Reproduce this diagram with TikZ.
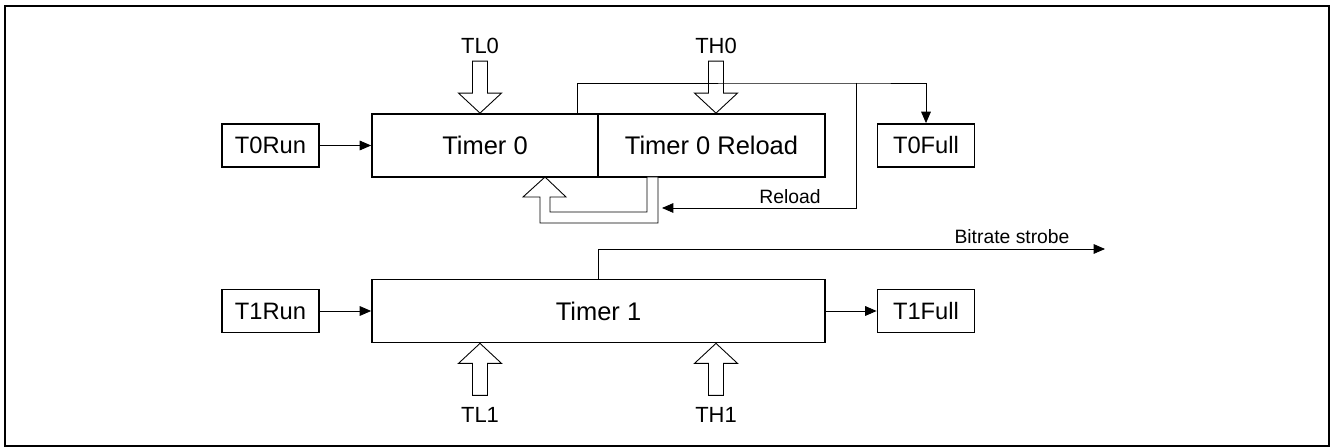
\documentclass[tikz,border=0pt]{standalone}
\usepackage{fontspec}
\setmainfont{Liberation Sans}
\usetikzlibrary{positioning,arrows.meta,calc}

\tikzset{
  regbox/.style={draw, line width=1pt, minimum height=63*0.02cm, inner sep=0pt, font=\fontsize{14.5}{17}\selectfont},
  flagbox/.style={draw, line width=1pt, minimum width=97*0.02cm, minimum height=43*0.02cm, inner sep=0pt, font=\fontsize{13.5}{16}\selectfont},
  buslabel/.style={font=\fontsize{12.5}{15}\selectfont, inner sep=0pt},
  smalllabel/.style={font=\fontsize{11}{13}\selectfont, inner sep=0pt},
  sig/.style={line width=0.5pt, -{Triangle[length=6.5pt, width=5.5pt]}},
  busup/.pic={\draw[line width=0.5pt, fill=white] (0,0) -- (21.5,20) -- (7.5,20) -- (7.5,52) -- (-7.5,52) -- (-7.5,20) -- (-21.5,20) -- cycle;}
}

\begin{document}
\begin{tikzpicture}[x=0.02cm, y=-0.02cm]
        \useasboundingbox (0,0) rectangle (1331,448);
        \draw[line width=0.7pt] (5,6) rectangle (1329,446);

        % timer 0
        \node[flagbox] (t0run) at (270.5,145.5) {T0Run};
        \node[regbox, minimum width=226*0.02cm] (timer0) at (485,145.5) {Timer 0};
        \node[regbox, minimum width=227*0.02cm, right=-1pt of timer0] (reload0) {Timer 0 Reload};
        \node[flagbox] (t0full) at (926,145.5) {T0Full};
        \node[buslabel] (tl0) at (480,46) {TL0};
        \node[buslabel] (th0) at (716,46) {TH0};

        % timer 1
        \node[flagbox] (t1run) at (270.5,311) {T1Run};
        \node[regbox, minimum width=453*0.02cm] (timer1) at (598.5,311) {Timer 1};
        \node[flagbox] (t1full) at (926,311) {T1Full};
        \node[buslabel] (tl1) at (480,415) {TL1};
        \node[buslabel] (th1) at (716,415) {TH1};

        \node[smalllabel] (reloadlbl) at (790,197) {Reload};
        \node[smalllabel] (strobelbl) at (1012,237) {Bitrate strobe};
        \coordinate (strobe) at (1105,249);

        % bus inputs
        \pic[rotate=180] at (timer0.north -| tl0) {busup};
        \pic[rotate=180] at (reload0.north -| th0) {busup};
        \pic at (timer1.south -| tl1) {busup};
        \pic at (timer1.south -| th1) {busup};

        % reload path back into timer 0
        \draw[line width=0.5pt, fill=white] (545,177) -- (566,197) -- (550,197) -- (550,212) -- (647,212) -- (647,177)
          -- (658,177) -- (658,223) -- (540,223) -- (540,197) -- (523,197) -- cycle;

        % signals
        \draw[sig] (t0run) -- (timer0);
        \draw[sig] (t1run) -- (timer1);
        \draw[sig] (timer1) -- (t1full);
        \draw[sig] (577,114) |- (856,83) -| (t0full);
        \draw[sig] (856,83) |- (662,208);
        \draw[sig] (timer1.north) |- (strobe);
      \end{tikzpicture}
\end{document}
